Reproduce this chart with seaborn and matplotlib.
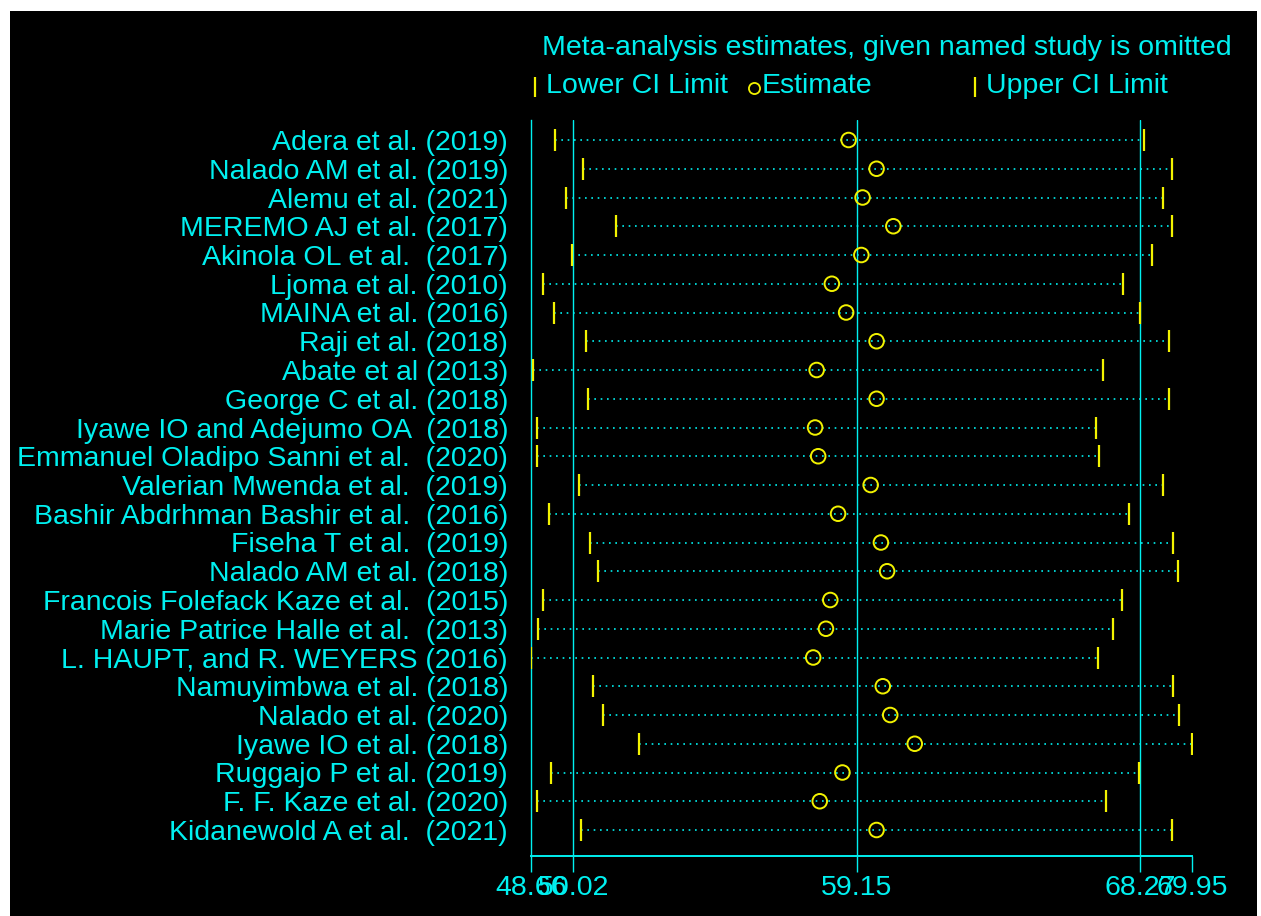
import matplotlib
matplotlib.use("Agg")
import matplotlib.pyplot as plt
from matplotlib.lines import Line2D
from matplotlib.patches import Rectangle
import seaborn as sns
import pandas as pd

# Influence analysis: pooled estimate with each study left out in turn
studies = [
    "Adera et al. (2019)",
    "Nalado AM et al. (2019)",
    "Alemu et al. (2021)",
    "MEREMO AJ et al. (2017)",
    "Akinola OL et al.  (2017)",
    "Ljoma et al. (2010)",
    "MAINA et al. (2016)",
    "Raji et al. (2018)",
    "Abate et al (2013)",
    "George C et al. (2018)",
    "Iyawe IO and Adejumo OA  (2018)",
    "Emmanuel Oladipo Sanni et al.  (2020)",
    "Valerian Mwenda et al.  (2019)",
    "Bashir Abdrhman Bashir et al.  (2016)",
    "Fiseha T et al.  (2019)",
    "Nalado AM et al. (2018)",
    "Francois Folefack Kaze et al.  (2015)",
    "Marie Patrice Halle et al.  (2013)",
    "L. HAUPT, and R. WEYERS (2016)",
    "Namuyimbwa et al. (2018)",
    "Nalado et al. (2020)",
    "Iyawe IO et al. (2018)",
    "Ruggajo P et al. (2019)",
    "F. F. Kaze et al. (2020)",
    "Kidanewold A et al.  (2021)",
]
lower_ci = [49.44, 50.32, 49.79, 51.40, 49.99, 49.04, 49.39, 50.42, 48.74, 50.48,
            48.85, 48.85, 50.22, 49.23, 50.57, 50.81, 49.04, 48.88, 48.66, 50.67,
            50.97, 52.15, 49.30, 48.85, 50.28]
estimate = [58.89, 59.79, 59.34, 60.33, 59.30, 58.35, 58.81, 59.79, 57.86, 59.79,
            57.81, 57.91, 59.60, 58.55, 59.93, 60.13, 58.30, 58.16, 57.75, 59.99,
            60.23, 61.02, 58.69, 57.96, 59.79]
upper_ci = [68.41, 69.31, 69.00, 69.31, 68.66, 67.72, 68.27, 69.21, 67.07, 69.21,
            66.87, 66.97, 69.00, 67.91, 69.35, 69.49, 67.68, 67.42, 66.93, 69.35,
            69.54, 69.95, 68.23, 67.17, 69.31]

# Full-data pooled estimate and its confidence limits, plus the axis range
pooled = [50.02, 59.15, 68.27]
axis_ticks = [48.66, 50.02, 59.15, 68.27, 69.95]
axis_labels = ["48.66", "50.02", "59.15", "68.27", "69.95"]

title_text = "Meta-analysis estimates, given named study is omitted"
legend_labels = ["Lower CI Limit", "Estimate", "Upper CI Limit"]

df = pd.DataFrame({
    "study": studies,
    "row": range(len(studies)),
    "lower": lower_ci,
    "est": estimate,
    "upper": upper_ci,
})

CYAN = "#00F0F0"
YELLOW = "#F2F200"
FONT = ["Liberation Sans", "DejaVu Sans"]
FS = 20.5

sns.set_theme(style="dark")
plt.rcParams["font.family"] = FONT

W, H = 1261, 916
fig = plt.figure(figsize=(W / 100, H / 100), dpi=100, facecolor="white")

def fx(px):
    return px / W

def fy(py):
    return 1 - py / H

# black graph region
fig.add_artist(Rectangle((fx(10), 0), fx(1257) - fx(10), fy(11), transform=fig.transFigure,
                         facecolor="black", edgecolor="none", zorder=0))

ax = fig.add_axes([fx(531), fy(856), fx(1192) - fx(531), (856 - 120) / H])
ax.set_facecolor("black")
ax.patch.set_alpha(0)

# reference lines at the pooled estimate and its CI
for v in pooled:
    ax.axvline(v, color=CYAN, lw=1.0, zorder=1)

# dotted spans between the limits
ax.hlines(df["row"], df["lower"], df["upper"], colors=CYAN, lw=1.2,
          linestyles=(0, (1.0, 2.8)), zorder=2)

sns.scatterplot(data=df, x="lower", y="row", marker="|", s=260, color=YELLOW,
                linewidth=1.6, ax=ax, zorder=3, legend=False)
sns.scatterplot(data=df, x="upper", y="row", marker="|", s=260, color=YELLOW,
                linewidth=1.6, ax=ax, zorder=3, legend=False)
sns.scatterplot(data=df, x="est", y="row", marker="o", s=110, facecolors="none",
                edgecolor=YELLOW, linewidth=1.4, ax=ax, zorder=4, legend=False)

ax.set_xlim(axis_ticks[0], axis_ticks[-1])
ax.set_ylim((856 - 140) / 28.75, (120 - 140) / 28.75)
ax.set_xlabel("")
ax.set_ylabel("")
ax.grid(False)

ax.set_yticks(df["row"])
ax.set_yticklabels(df["study"], color=CYAN, fontsize=FS, family=FONT)
ax.tick_params(axis="y", length=0, pad=16.5)

ax.set_xticks(axis_ticks)
ax.set_xticklabels(axis_labels, color=CYAN, fontsize=FS, family=FONT)
ax.tick_params(axis="x", direction="out", length=11.5, width=1.0, color=CYAN,
               pad=2.5, bottom=True)

for side in ["top", "right"]:
    ax.spines[side].set_visible(False)
ax.spines["left"].set_color(CYAN)
ax.spines["left"].set_linewidth(1.0)
ax.spines["bottom"].set_color(CYAN)
ax.spines["bottom"].set_linewidth(1.4)

# title and key
fig.text(fx(887), fy(48), title_text, color=CYAN, fontsize=FS, family=FONT,
         ha="center", va="center")

def key_tick(px, py):
    fig.add_artist(Line2D([fx(px)], [fy(py)], marker="|", markersize=14,
                          markeredgewidth=1.6, color=YELLOW, linestyle="none",
                          transform=fig.transFigure))

key_tick(535, 87)
fig.text(fx(546), fy(86), legend_labels[0], color=CYAN, fontsize=FS, family=FONT,
         ha="left", va="center")
fig.add_artist(Line2D([fx(754)], [fy(88)], marker="o", markersize=8,
                      markerfacecolor="none", markeredgecolor=YELLOW,
                      markeredgewidth=1.3, linestyle="none", transform=fig.transFigure))
fig.text(fx(762), fy(86), legend_labels[1], color=CYAN, fontsize=FS, family=FONT,
         ha="left", va="center")
key_tick(975, 87)
fig.text(fx(986), fy(86), legend_labels[2], color=CYAN, fontsize=FS, family=FONT,
         ha="left", va="center")

fig.savefig("out.png", dpi=100, facecolor="white")
